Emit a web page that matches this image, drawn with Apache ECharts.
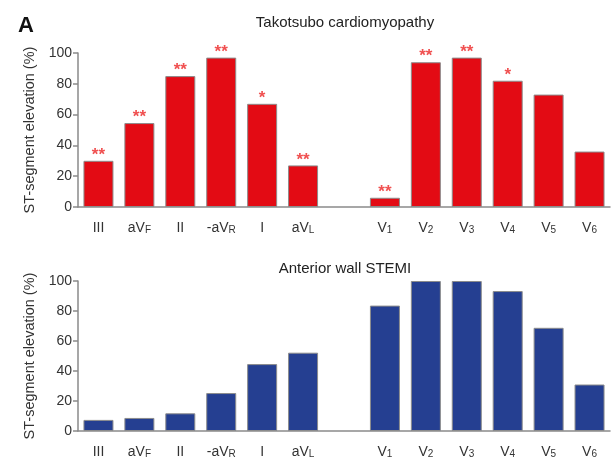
<!DOCTYPE html>
<html>
<head>
    <meta charset="utf-8">
    <title>ST-segment elevation</title>
    <script src="https://cdn.jsdelivr.net/npm/echarts@6/dist/echarts.min.js"></script>
    <style>
        html, body { margin: 0; padding: 0; background: #fff; }
        #main { width: 614px; height: 459px; }
    </style>
</head>
<body>
<div id="main"></div>
<script>
    // leads (blank slot between limb and chest leads)
    var leads = ['III', 'aVF', 'II', '-aVR', 'I', 'aVL', '', 'V1', 'V2', 'V3', 'V4', 'V5', 'V6'];
    // Takotsubo cardiomyopathy (%)
    var takoValues = [30, 54.5, 85, 97, 67, 27, null, 6, 94, 97, 82, 73, 36];
    // significance marks above takotsubo bars
    var takoStars = ['**', '**', '**', '**', '*', '**', '', '**', '**', '**', '*', '', ''];
    // Anterior wall STEMI (%)
    var stemiValues = [7.4, 8.7, 11.8, 25.3, 44.6, 52.2, null, 83.6, 100, 100, 93.3, 68.8, 31];
    var yTicks = [0, 20, 40, 60, 80, 100];

    // lead name -> rich text with small subscript
    function leadLabel(v) {
        var m = v.match(/^(-?a?V)([A-Z0-9])$/);
        if (m) return '{m|' + m[1] + '}{s|' + m[2] + '}';
        return '{m|' + v + '}';
    }

    var labelRich = {
        m: {fontSize: 14, color: '#333', fontFamily: 'Liberation Sans'},
        s: {fontSize: 10, color: '#333', fontFamily: 'Liberation Sans', verticalAlign: 'bottom', padding: [2, 0, 0, 0]}
    };

    function xAxisFor(idx) {
        return {
            type: 'category',
            gridIndex: idx,
            data: leads,
            axisTick: {show: false},
            axisLine: {lineStyle: {color: '#8a8a8a', width: 1.5}},
            axisLabel: {margin: 14, formatter: leadLabel, rich: labelRich, interval: 0}
        };
    }

    function yAxisFor(idx) {
        return {
            type: 'value',
            gridIndex: idx,
            min: yTicks[0],
            max: yTicks[yTicks.length - 1],
            interval: 20,
            name: 'ST-segment elevation (%)',
            nameLocation: 'middle',
            nameGap: 38,
            nameTextStyle: {fontSize: 14.5, color: '#333', fontFamily: 'Liberation Sans'},
            splitLine: {show: false},
            axisLine: {show: true, lineStyle: {color: '#8a8a8a', width: 1.5}},
            axisTick: {show: true, length: 5, lineStyle: {color: '#8a8a8a', width: 1.5}},
            axisLabel: {fontSize: 14, color: '#333', margin: 6, fontFamily: 'Liberation Sans'}
        };
    }

    var myChart = echarts.init(document.getElementById('main'));
    var option = {
        backgroundColor: '#fff',
        animation: false,
        title: [
            {text: 'A', left: 13, top: 10, textStyle: {fontSize: 22, fontWeight: 'bold', color: '#111', fontFamily: 'Liberation Sans'}},
            {text: 'Takotsubo cardiomyopathy', left: 340, top: 10, textAlign: 'center',
                textStyle: {fontSize: 15, fontWeight: 'normal', color: '#222', fontFamily: 'Liberation Sans'}},
            {text: 'Anterior wall STEMI', left: 340, top: 256, textAlign: 'center',
                textStyle: {fontSize: 15, fontWeight: 'normal', color: '#222', fontFamily: 'Liberation Sans'}}
        ],
        grid: [
            {left: 78, right: 4, top: 53, bottom: 252},
            {left: 78, right: 4, top: 281, bottom: 26}
        ],
        xAxis: [xAxisFor(0), xAxisFor(1)],
        yAxis: [yAxisFor(0), yAxisFor(1)],
        series: [
            {
                name: 'Takotsubo cardiomyopathy',
                type: 'bar',
                xAxisIndex: 0,
                yAxisIndex: 0,
                data: takoValues,
                barWidth: 30,
                itemStyle: {color: '#e30b14', borderColor: '#8c8c8c', borderWidth: 1},
                label: {
                    show: true,
                    position: 'top',
                    distance: -3,
                    color: '#f05050',
                    fontSize: 17,
                    fontWeight: 'bold',
                    fontFamily: 'Liberation Sans',
                    formatter: function (p) { return takoStars[p.dataIndex]; }
                }
            },
            {
                name: 'Anterior wall STEMI',
                type: 'bar',
                xAxisIndex: 1,
                yAxisIndex: 1,
                data: stemiValues,
                barWidth: 30,
                itemStyle: {color: '#253f91', borderColor: '#8c8c8c', borderWidth: 1}
            }
        ]
    };
    myChart.setOption(option);
</script>
</body>
</html>
